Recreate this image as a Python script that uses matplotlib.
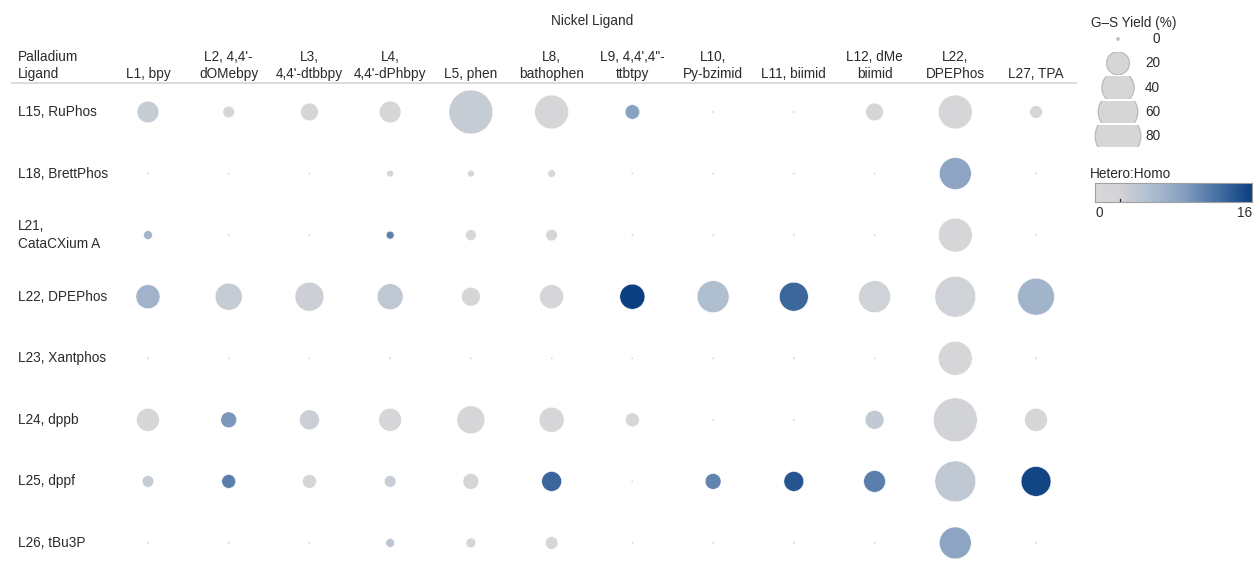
import numpy as np
import matplotlib
matplotlib.use("Agg")
import matplotlib.pyplot as plt
from matplotlib.colors import LinearSegmentedColormap, Normalize
from matplotlib.patches import Circle, Rectangle
from matplotlib.transforms import blended_transform_factory

plt.rcParams['font.family'] = ['Liberation Sans', 'DejaVu Sans']

# ---- data -------------------------------------------------------------
nickel_ligands = ["L1, bpy", "L2, 4,4'-\ndOMebpy", "L3,\n4,4'-dtbbpy", "L4,\n4,4'-dPhbpy",
                  "L5, phen", "L8,\nbathophen", "L9, 4,4',4\"-\nttbtpy", "L10,\nPy-bzimid",
                  "L11, biimid", "L12, dMe\nbiimid", "L22,\nDPEPhos", "L27, TPA"]
palladium_ligands = ["L15, RuPhos", "L18, BrettPhos", "L21,\nCataCXium A", "L22, DPEPhos",
                     "L23, Xantphos", "L24, dppb", "L25, dppf", "L26, tBu3P"]

# G-S yield (%) per palladium ligand (rows) x nickel ligand (columns)
gs_yield = [
    [18, 5, 12, 18, 74, 44, 8, 0, 0, 12, 44, 6],
    [0, 0, 0, 1.6, 1.6, 2, 0, 0, 0, 0, 39, 0],
    [2.8, 0, 0, 2.2, 4.3, 5, 0, 0, 0, 0, 44, 0],
    [22, 28, 32, 25.6, 13.5, 22, 24, 39, 32, 39, 64, 52],
    [0, 0, 0, 0, 0, 0, 0, 0, 0, 0, 44, 0],
    [20, 9.5, 15, 20, 30, 24, 7.2, 0, 0, 13.5, 74, 20],
    [5, 7.2, 7.2, 5, 9.5, 15, 0, 9.5, 15, 18, 64, 34],
    [0, 0, 0, 2.8, 3.5, 6, 0, 0, 0, 0, 39, 0],
]
# Hetero:Homo ratio
hetero_homo = [
    [3.6, 1, 1, 1, 3.6, 1, 8.8, 0, 0, 1, 1, 1],
    [0, 0, 0, 1, 1, 1, 0, 0, 0, 0, 8.5, 0],
    [6.7, 0, 0, 11.2, 1, 1, 0, 0, 0, 0, 1, 0],
    [6.9, 3.6, 3.0, 4.3, 1, 1, 16, 5.6, 13.1, 2.8, 2.8, 6.8],
    [0, 0, 0, 0, 0, 0, 0, 0, 0, 0, 1, 0],
    [1, 9.6, 3.3, 1, 1, 1, 1, 0, 0, 4.1, 2.5, 1],
    [3.6, 11.4, 1, 3.5, 1, 13.2, 0, 11, 14.4, 11.4, 4.2, 15.5],
    [0, 0, 0, 4.5, 1, 1, 0, 0, 0, 0, 8.5, 0],
]
legend_yields = [0, 20, 40, 60, 80]
ratio_min, ratio_max = 0, 16

# ---- styling ----------------------------------------------------------
W, H, DPI = 1256, 569, 100
TEXT = '#2b2b2b'
FS = 9.8
LS = 1.3

cmap = LinearSegmentedColormap.from_list(
    'gray_blue',
    [(0.0, '#d8d8d8'), (0.15, '#d3d4d7'), (0.35, '#b0bfd0'),
     (0.55, '#8aa2c1'), (0.75, '#4f77a7'), (1.0, '#0b3f7f')])
norm = Normalize(ratio_min, ratio_max)


def diameter_px(y):
    # circle area grows linearly with yield, with a small floor for 0 %
    return np.sqrt(6.0 + 26.0 * np.asarray(y, dtype=float))


fig = plt.figure(figsize=(W / DPI, H / DPI), dpi=DPI)

# pixel-space overlay for text and legend
ov = fig.add_axes([0, 0, 1, 1])
ov.set_xlim(0, W)
ov.set_ylim(H, 0)
ov.axis('off')

# ---- main grid --------------------------------------------------------
top_px, bot_px = 81.2, 569
x0_px, x1_px = 107.6, 1076.4
ax = fig.add_axes([x0_px / W, 0, (x1_px - x0_px) / W, (H - top_px) / H])
row_step = 61.57
ax.set_xlim(-0.5, len(nickel_ligands) - 0.5)
ax.set_ylim((bot_px - top_px) / row_step - 0.5, -0.5)
ax.axis('off')

Y = np.array(gs_yield)
R = np.array(hetero_homo)
cols, rows = np.meshgrid(np.arange(len(nickel_ligands)), np.arange(len(palladium_ligands)))
sizes = (diameter_px(Y) * 72.0 / DPI) ** 2
ax.scatter(cols.ravel(), rows.ravel(), s=sizes.ravel(), c=R.ravel(), cmap=cmap, norm=norm,
           linewidths=0.4, edgecolors='white', clip_on=False, zorder=3)

# column headers
tr_col = blended_transform_factory(ax.transData, ov.transData)
for i, lab in enumerate(nickel_ligands):
    ax.text(i, 81, lab, transform=tr_col, ha='center', va='bottom', fontsize=FS,
            color=TEXT, linespacing=LS, multialignment='center')

# row headers
tr_row = blended_transform_factory(ov.transData, ax.transData)
for j, lab in enumerate(palladium_ligands):
    ax.text(18, j, lab, transform=tr_row, ha='left', va='center', fontsize=FS,
            color=TEXT, linespacing=LS)

ov.text(18, 81, "Palladium\nLigand", ha='left', va='bottom', fontsize=FS, color=TEXT,
        linespacing=LS)
ov.text(592, 25, "Nickel Ligand", ha='center', va='baseline', fontsize=FS, color=TEXT)
ov.plot([12, 1076], [82.5, 82.5], color='#d4d4d4', lw=1.2)

# ---- size legend ------------------------------------------------------
ov.text(1091, 27, "G\u2013S Yield (%)", ha='left', va='baseline', fontsize=FS, color=TEXT)
leg_cx, leg_y0, leg_dy, cell_h = 1118, 39, 24.3, 22.5
for k, yv in enumerate(legend_yields):
    cy = leg_y0 + k * leg_dy
    d = float(diameter_px(yv))
    circ = Circle((leg_cx, cy), d / 2, facecolor='#d6d6d6', edgecolor='#b5b5b5', lw=0.8)
    ov.add_patch(circ)
    clip = Rectangle((leg_cx - 40, cy - cell_h / 2), 80, cell_h, transform=ov.transData)
    circ.set_clip_path(clip)
    ov.text(1160, cy, str(yv), ha='right', va='center', fontsize=FS, color=TEXT)

# ---- colour legend ----------------------------------------------------
ov.text(1090, 178, "Hetero:Homo", ha='left', va='baseline', fontsize=FS, color=TEXT)
cb_x0, cb_x1, cb_y0, cb_y1 = 1095, 1252, 183, 202
cax = fig.add_axes([cb_x0 / W, 1 - cb_y1 / H, (cb_x1 - cb_x0) / W, (cb_y1 - cb_y0) / H])
grad = np.linspace(ratio_min, ratio_max, 256)[None, :]
cax.imshow(grad, aspect='auto', cmap=cmap, norm=norm,
           extent=[ratio_min, ratio_max, 0, 1])
cax.set_xticks([])
cax.set_yticks([])
for sp in cax.spines.values():
    sp.set_color('#a0a0a0')
    sp.set_linewidth(0.8)
cax.plot([2.5, 2.5], [0, 0.18], color='#222222', lw=0.9)
ov.text(cb_x0 + 1, 217, str(ratio_min), ha='left', va='baseline', fontsize=FS, color=TEXT)
ov.text(cb_x1, 217, str(ratio_max), ha='right', va='baseline', fontsize=FS, color=TEXT)

fig.savefig("out.png", dpi=DPI, facecolor='white')
